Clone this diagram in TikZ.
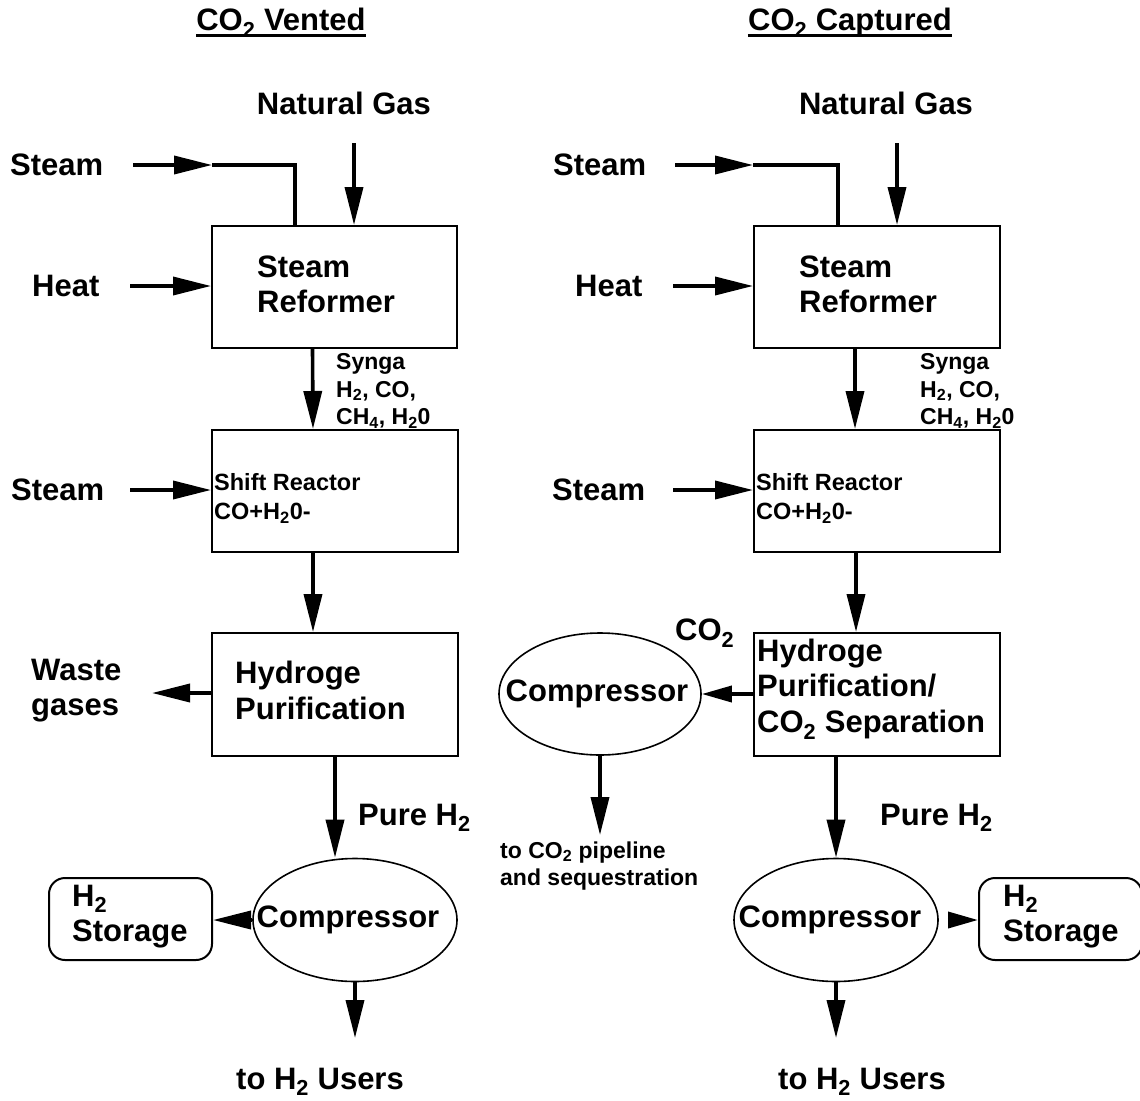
\documentclass[tikz,border=0pt]{standalone}
\usepackage{fontspec}
\setmainfont{Liberation Sans}
\usetikzlibrary{arrows.meta,shapes.geometric}
\newcommand{\zerow}[1]{\makebox[0pt][c]{#1}}
\begin{document}
\begin{tikzpicture}[x=1pt,y=-1pt,
  big/.style={font=\fontsize{31}{35.5}\selectfont\bfseries, inner sep=0pt, align=left},
  mid/.style={font=\fontsize{23.5}{29}\selectfont\bfseries, inner sep=0pt, align=left},
  sml/.style={font=\fontsize{23}{27.5}\selectfont\bfseries, inner sep=0pt, align=left},
  box/.style={draw, line width=2pt, fill=white, rectangle, inner sep=0pt},
  comp/.style={draw, line width=1.6pt, ellipse, inner sep=0pt, minimum width=204pt, minimum height=123pt, fill=white, font=\fontsize{31}{35.5}\selectfont\bfseries},
  store/.style={draw, line width=2pt, rounded corners=16pt, minimum width=163pt, minimum height=82pt, inner sep=0pt, fill=white},
  arr/.style={line width=3.6pt, -{Triangle[length=38pt,width=18pt]}},
  arrs/.style={line width=3.6pt, -{Triangle[length=30pt,width=16pt]}},
  ln/.style={line width=3.6pt},
  uline/.style={line width=2.6pt}
]
\useasboundingbox (0,0) rectangle (1140,1100);
\fill[white] (0,0) rectangle (1140,1100);

% ---------- titles ----------
\node[big] (t1) at (281,23) {CO\textsubscript{2} Vented};
\draw[uline] ([yshift=-4.5pt]t1.base west) -- ([yshift=-4.5pt]t1.base east);
\node[big] (t2) at (850,23) {CO\textsubscript{2} Captured};
\draw[uline] ([yshift=-4.5pt]t2.base west) -- ([yshift=-4.5pt]t2.base east);

% ================= LEFT: CO2 vented =================
\node[big] (ng1) at (344,103) {Natural Gas};
\node[big, anchor=west] (st1) at (10,165) {Steam};
\node[big, anchor=west] (ht1) at (32,286) {Heat};

\node[box, minimum width=245pt, minimum height=122pt] (ref1) at (334.5,287) {};
\node[big, anchor=west] (ref1t) at (257,284.5) {Steam\\Reformer};

\coordinate (ng1a) at (354,143);
\draw[arr] (ng1a) -- (ng1a |- ref1.north);
\coordinate (st1a) at (133,165);
\coordinate (st1b) at (212,165);
\draw[arr] (st1a) -- (st1b);
\draw[ln] (st1b) -| ([xshift=-39.5pt]ref1.north);
\coordinate (ht1a) at (130,286);
\draw[arr] (ht1a) -- (ht1a -| ref1.west);

\node[sml, anchor=west] (syn1) at (336,391) {Synga\\H\textsubscript{2}, CO,\\CH\textsubscript{4}, H\textsubscript{2}0};

\node[box, minimum width=246pt, minimum height=122pt] (shf1) at (335,491) {};
\node[mid, anchor=west] (shf1t) at (214,498.5) {Shift Reactor\\CO+H\textsubscript{2}0-};
\draw[arr] ([xshift=-22pt]ref1.south) -- ([xshift=-22pt]shf1.north);

\node[big, anchor=west] (st3) at (11,490) {Steam};
\coordinate (st3a) at (130,490);
\draw[arr] (st3a) -- (st3a -| shf1.west);

\node[box, minimum width=246pt, minimum height=123pt] (hyd1) at (335,694.5) {};
\node[big, anchor=west] (hyd1t) at (235,690.5) {Hydroge\\Purification};
\draw[arr] ([xshift=-22pt]shf1.south) -- ([xshift=-22pt]hyd1.north);

\node[big, anchor=west] (wst) at (31,690.5) {Waste\\gases};
\coordinate (wsta) at (152,693);
\draw[arr] (wsta -| hyd1.west) -- (wsta);

\node[comp] (cmp1) at (355,920) {\zerow{\hspace*{-14pt}Compressor}};
\draw[arr] (hyd1.south) -- (hyd1.south |- cmp1.north);
\node[big, anchor=west] (pure1) at (358,818) {Pure H\textsubscript{2}};

\node[store] (sto1) at (130.5,919) {};
\node[big, anchor=west] (sto1t) at (72,916.5) {H\textsubscript{2}\\Storage};
\draw[arr] (cmp1.west) -- (cmp1.west -| sto1.east);

\coordinate (us1a) at (355,1038);
\draw[arr] (cmp1.south) -- (us1a);
\node[big] (us1) at (320,1082) {to H\textsubscript{2} Users};

% ================= RIGHT: CO2 captured =================
\node[big] (ng2) at (886,103) {Natural Gas};
\node[big, anchor=west] (st2) at (553,165) {Steam};
\node[big, anchor=west] (ht2) at (575,286) {Heat};

\node[box, minimum width=246pt, minimum height=122pt] (ref2) at (877,287) {};
\node[big, anchor=west] (ref2t) at (799,284.5) {Steam\\Reformer};

\coordinate (ng2a) at (897,143);
\draw[arr] (ng2a) -- (ng2a |- ref2.north);
\coordinate (st2a) at (675,165);
\coordinate (st2b) at (753,165);
\draw[arr] (st2a) -- (st2b);
\draw[ln] (st2b) -| ([xshift=-39pt]ref2.north);
\coordinate (ht2a) at (673,286);
\draw[arr] (ht2a) -- (ht2a -| ref2.west);

\node[sml, anchor=west] (syn2) at (920,391) {Synga\\H\textsubscript{2}, CO,\\CH\textsubscript{4}, H\textsubscript{2}0};

\node[box, minimum width=246pt, minimum height=122pt] (shf2) at (877,491) {};
\node[mid, anchor=west] (shf2t) at (756,498.5) {Shift Reactor\\CO+H\textsubscript{2}0-};
\draw[arr] ([xshift=-22pt]ref2.south) -- ([xshift=-22pt]shf2.north);

\node[big, anchor=west] (st4) at (552,490) {Steam};
\coordinate (st4a) at (673,490);
\draw[arr] (st4a) -- (st4a -| shf2.west);

\node[box, minimum width=246pt, minimum height=123pt] (hyd2) at (877,694.5) {};
\node[big, anchor=west] (hyd2t) at (757,689) {Hydroge\\Purification/\\CO\textsubscript{2} Separation};
\draw[arr] ([xshift=-21pt]shf2.south) -- ([xshift=-21pt]hyd2.north);

\node[comp, minimum width=202pt, minimum height=122pt] (cmpc) at (600,694) {\zerow{\hspace*{-6pt}Compressor}};
\node[big, anchor=west] (co2l) at (675,633) {CO\textsubscript{2}};
\draw[arrs] (hyd2.west |- cmpc.east) -- (cmpc.east);

\coordinate (pipa) at (600,835);
\draw[arr] (cmpc.south) -- (pipa);
\node[sml, anchor=west] (pipe) at (500,866) {to CO\textsubscript{2} pipeline\\and sequestration};

\node[comp] (cmp2) at (836,920) {\zerow{\hspace*{-12pt}Compressor}};
\draw[arr] (cmp2.north |- hyd2.south) -- (cmp2.north);
\node[big, anchor=west] (pure2) at (880,818) {Pure H\textsubscript{2}};

\node[store] (sto2) at (1060.5,919) {};
\node[big, anchor=west] (sto2t) at (1003,916.5) {H\textsubscript{2}\\Storage};
\draw[arrs] ([xshift=9pt]cmp2.east) -- (cmp2.east -| sto2.west);

\coordinate (us2a) at (836,1038);
\draw[arr] (cmp2.south) -- (us2a);
\node[big] (us2) at (862,1082) {to H\textsubscript{2} Users};
\end{tikzpicture}
\end{document}
